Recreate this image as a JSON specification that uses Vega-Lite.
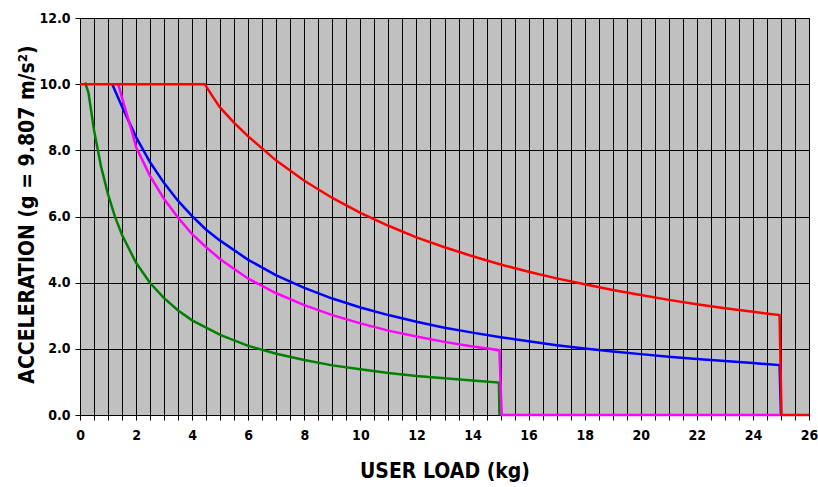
{
  "$schema": "https://vega.github.io/schema/vega-lite/v6.json",
  "width": 729,
  "height": 397,
  "autosize": {"type": "none"},
  "padding": {"left": 80, "top": 18, "right": 9, "bottom": 72},
  "background": "white",
  "config": {
    "view": {"fill": "#C0C0C0", "stroke": "black", "strokeWidth": 1},
    "font": "'DejaVu Sans Condensed', 'Liberation Sans', sans-serif",
    "axis": {
      "labelFont": "'DejaVu Sans Condensed', 'Liberation Sans', sans-serif",
      "titleFont": "'DejaVu Sans Condensed', 'Liberation Sans', sans-serif",
      "labelFontWeight": "bold",
      "labelFontSize": 14,
      "labelColor": "black",
      "titleColor": "black",
      "titleFontSize": 21,
      "titleFontWeight": "bold",
      "gridColor": "black",
      "gridOpacity": 1,
      "gridWidth": 1,
      "domainColor": "black",
      "domainWidth": 1,
      "tickColor": "black",
      "tickWidth": 1
    }
  },
  "data": {
    "values": [
      {"s": "green", "x": 0.18, "y": 10.05},
      {"s": "green", "x": 0.3, "y": 9.75},
      {"s": "green", "x": 0.5, "y": 8.61},
      {"s": "green", "x": 0.75, "y": 7.51},
      {"s": "green", "x": 1.0, "y": 6.67},
      {"s": "green", "x": 1.25, "y": 5.99},
      {"s": "green", "x": 1.5, "y": 5.44},
      {"s": "green", "x": 2.0, "y": 4.6},
      {"s": "green", "x": 2.5, "y": 3.99},
      {"s": "green", "x": 3.0, "y": 3.53},
      {"s": "green", "x": 3.5, "y": 3.16},
      {"s": "green", "x": 4.0, "y": 2.86},
      {"s": "green", "x": 5.0, "y": 2.42},
      {"s": "green", "x": 6.0, "y": 2.09},
      {"s": "green", "x": 7.0, "y": 1.85},
      {"s": "green", "x": 8.0, "y": 1.66},
      {"s": "green", "x": 9.0, "y": 1.5},
      {"s": "green", "x": 10.0, "y": 1.38},
      {"s": "green", "x": 11.0, "y": 1.27},
      {"s": "green", "x": 12.0, "y": 1.18},
      {"s": "green", "x": 13.0, "y": 1.11},
      {"s": "green", "x": 14.0, "y": 1.04},
      {"s": "green", "x": 14.94, "y": 0.98},
      {"s": "green", "x": 14.96, "y": 0.0},
      {"s": "blue", "x": 1.15, "y": 10.0},
      {"s": "blue", "x": 1.5, "y": 9.32},
      {"s": "blue", "x": 2.0, "y": 8.4},
      {"s": "blue", "x": 2.5, "y": 7.64},
      {"s": "blue", "x": 3.0, "y": 7.01},
      {"s": "blue", "x": 3.5, "y": 6.47},
      {"s": "blue", "x": 4.0, "y": 6.01},
      {"s": "blue", "x": 4.5, "y": 5.6},
      {"s": "blue", "x": 5.0, "y": 5.27},
      {"s": "blue", "x": 6.0, "y": 4.69},
      {"s": "blue", "x": 7.0, "y": 4.22},
      {"s": "blue", "x": 8.0, "y": 3.84},
      {"s": "blue", "x": 9.0, "y": 3.52},
      {"s": "blue", "x": 10.0, "y": 3.25},
      {"s": "blue", "x": 11.0, "y": 3.02},
      {"s": "blue", "x": 12.0, "y": 2.82},
      {"s": "blue", "x": 13.0, "y": 2.64},
      {"s": "blue", "x": 14.0, "y": 2.49},
      {"s": "blue", "x": 15.0, "y": 2.35},
      {"s": "blue", "x": 16.0, "y": 2.23},
      {"s": "blue", "x": 17.0, "y": 2.11},
      {"s": "blue", "x": 18.0, "y": 2.01},
      {"s": "blue", "x": 19.0, "y": 1.92},
      {"s": "blue", "x": 20.0, "y": 1.84},
      {"s": "blue", "x": 21.0, "y": 1.76},
      {"s": "blue", "x": 22.0, "y": 1.69},
      {"s": "blue", "x": 23.0, "y": 1.63},
      {"s": "blue", "x": 24.0, "y": 1.57},
      {"s": "blue", "x": 24.95, "y": 1.51},
      {"s": "blue", "x": 25.0, "y": 0.0},
      {"s": "magenta", "x": 1.36, "y": 10.0},
      {"s": "magenta", "x": 1.6, "y": 9.3},
      {"s": "magenta", "x": 1.84, "y": 8.6},
      {"s": "magenta", "x": 2.0, "y": 8.1},
      {"s": "magenta", "x": 2.5, "y": 7.22},
      {"s": "magenta", "x": 3.0, "y": 6.53},
      {"s": "magenta", "x": 3.5, "y": 5.96},
      {"s": "magenta", "x": 4.0, "y": 5.47},
      {"s": "magenta", "x": 4.5, "y": 5.07},
      {"s": "magenta", "x": 5.0, "y": 4.71},
      {"s": "magenta", "x": 6.0, "y": 4.12},
      {"s": "magenta", "x": 7.0, "y": 3.68},
      {"s": "magenta", "x": 8.0, "y": 3.32},
      {"s": "magenta", "x": 9.0, "y": 3.02},
      {"s": "magenta", "x": 10.0, "y": 2.77},
      {"s": "magenta", "x": 11.0, "y": 2.55},
      {"s": "magenta", "x": 12.0, "y": 2.37},
      {"s": "magenta", "x": 13.0, "y": 2.21},
      {"s": "magenta", "x": 14.0, "y": 2.07},
      {"s": "magenta", "x": 14.96, "y": 1.96},
      {"s": "magenta", "x": 15.04, "y": 0.0},
      {"s": "magenta", "x": 24.98, "y": 0.0},
      {"s": "red", "x": 0.0, "y": 10.0},
      {"s": "red", "x": 4.45, "y": 10.0},
      {"s": "red", "x": 4.75, "y": 9.6},
      {"s": "red", "x": 5.0, "y": 9.29},
      {"s": "red", "x": 5.5, "y": 8.83},
      {"s": "red", "x": 6.0, "y": 8.42},
      {"s": "red", "x": 7.0, "y": 7.69},
      {"s": "red", "x": 8.0, "y": 7.08},
      {"s": "red", "x": 9.0, "y": 6.56},
      {"s": "red", "x": 10.0, "y": 6.11},
      {"s": "red", "x": 11.0, "y": 5.72},
      {"s": "red", "x": 12.0, "y": 5.37},
      {"s": "red", "x": 13.0, "y": 5.07},
      {"s": "red", "x": 14.0, "y": 4.8},
      {"s": "red", "x": 15.0, "y": 4.55},
      {"s": "red", "x": 16.0, "y": 4.33},
      {"s": "red", "x": 17.0, "y": 4.13},
      {"s": "red", "x": 18.0, "y": 3.95},
      {"s": "red", "x": 19.0, "y": 3.78},
      {"s": "red", "x": 20.0, "y": 3.63},
      {"s": "red", "x": 21.0, "y": 3.48},
      {"s": "red", "x": 22.0, "y": 3.35},
      {"s": "red", "x": 23.0, "y": 3.23},
      {"s": "red", "x": 24.0, "y": 3.12},
      {"s": "red", "x": 24.95, "y": 3.02},
      {"s": "red", "x": 25.02, "y": 0.0},
      {"s": "red", "x": 26.0, "y": 0.0}
    ]
  },
  "encoding": {
    "x": {
      "field": "x",
      "type": "quantitative",
      "scale": {"domain": [0, 26], "nice": false, "zero": false},
      "axis": {
        "title": "USER LOAD (kg)",
        "values": [0,0.5,1,1.5,2,2.5,3,3.5,4,4.5,5,5.5,6,6.5,7,7.5,8,8.5,9,9.5,10,10.5,11,11.5,12,12.5,13,13.5,14,14.5,15,15.5,16,16.5,17,17.5,18,18.5,19,19.5,20,20.5,21,21.5,22,22.5,23,23.5,24,24.5,25,25.5,26],
        "labelExpr": "datum.value % 2 === 0 ? datum.value : ''",
        "tickSize": 5,
        "labelPadding": 8,
        "labelFlush": false,
        "labelOverlap": false,
        "titleY": 56,
        "titleBaseline": "middle"
      }
    },
    "y": {
      "field": "y",
      "type": "quantitative",
      "scale": {"domain": [0, 12], "nice": false},
      "axis": {
        "title": "ACCELERATION (g = 9.807 m/s²)",
        "values": [0, 2, 4, 6, 8, 10, 12],
        "format": ".1f",
        "tickSize": 5,
        "labelPadding": 5,
        "titleX": -53,
        "titleY": 196,
        "titleBaseline": "middle",
        "titleAngle": -90
      }
    },
    "color": {
      "field": "s",
      "type": "nominal",
      "scale": {"domain": ["green", "blue", "magenta", "red"], "range": ["#008000", "#0000FF", "#FF00FF", "#FF0000"]},
      "legend": null
    }
  },
  "layer": [
    {"transform": [{"filter": "datum.s === 'green'"}], "mark": {"type": "line", "strokeWidth": 2.5, "clip": false}},
    {"transform": [{"filter": "datum.s === 'blue'"}], "mark": {"type": "line", "strokeWidth": 2.5, "clip": false}},
    {"transform": [{"filter": "datum.s === 'magenta'"}], "mark": {"type": "line", "strokeWidth": 2.5, "clip": false}},
    {"transform": [{"filter": "datum.s === 'red'"}], "mark": {"type": "line", "strokeWidth": 2.5, "clip": false}}
  ]
}
